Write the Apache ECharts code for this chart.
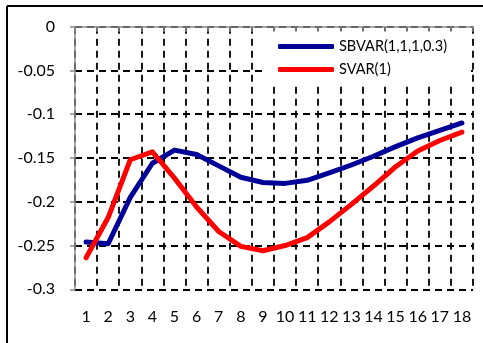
<!DOCTYPE html>
<html>
<head>
<meta charset="utf-8">
<script src="https://cdn.jsdelivr.net/npm/echarts@6/dist/echarts.min.js"></script>
<style>
html,body{margin:0;padding:0;background:#fff;}
#c{width:483px;height:343px;}
</style>
</head>
<body>
<div id="c"></div>
<script>
var categories = ['1','2','3','4','5','6','7','8','9','10','11','12','13','14','15','16','17','18'];
var sbvarName = 'SBVAR(1,1,1,0.3)';
var svarName = 'SVAR(1)';
var sbvarValues = [-0.246, -0.248, -0.195, -0.156, -0.141, -0.146, -0.159, -0.172, -0.178, -0.179, -0.1755, -0.167, -0.158, -0.148, -0.137, -0.127, -0.1185, -0.110];
var svarValues = [-0.264, -0.218, -0.152, -0.143, -0.173, -0.206, -0.234, -0.251, -0.256, -0.250, -0.241, -0.223, -0.203, -0.182, -0.160, -0.142, -0.130, -0.1205];
var yTicks = {min: -0.3, max: 0, interval: 0.05};

var FONT = 'Lato';
var chart = echarts.init(document.getElementById('c'), null, {renderer: 'canvas'});
var dash = {color: '#000', width: 1.8, type: [7, 5]};
chart.setOption({
  animation: false,
  backgroundColor: '#fff',
  grid: {left: 75, right: 10, top: 26.7, bottom: 53.7},
  graphic: [
    {type: 'line', shape: {x1: 7, y1: 6, x2: 7, y2: 343}, style: {stroke: '#000', lineWidth: 2}, z: 100},
    {type: 'line', shape: {x1: 7, y1: 6, x2: 483, y2: 6}, style: {stroke: '#000', lineWidth: 2}, z: 100}
  ],
  legend: {
    orient: 'vertical',
    left: 266, top: 31,
    padding: [8, 22, 8, 12],
    backgroundColor: '#fff',
    itemWidth: 56, itemHeight: 5, itemGap: 8,
    icon: 'roundRect',
    textStyle: {fontFamily: FONT, fontSize: 14.5, color: '#000'},
    data: [sbvarName, svarName]
  },
  xAxis: [
    {
      type: 'category', data: categories, position: 'bottom', boundaryGap: true,
      axisLine: {show: false}, axisTick: {show: false},
      axisLabel: {interval: 0, margin: 20, fontFamily: FONT, fontSize: 16, color: '#000'},
      splitLine: {show: true, interval: 0, lineStyle: dash}
    },
    {
      type: 'category', data: categories, position: 'top', boundaryGap: true, z: 5,
      axisLine: {show: true, lineStyle: {color: '#888', width: 1.5}},
      axisTick: {show: true, inside: true, length: 5, interval: 0, lineStyle: {color: '#888', width: 1.5}},
      axisLabel: {show: false}, splitLine: {show: false}
    }
  ],
  yAxis: {
    type: 'value', min: yTicks.min, max: yTicks.max, interval: yTicks.interval,
    axisLine: {show: true, lineStyle: {color: '#888', width: 1.5}},
    axisTick: {show: true, length: 5, lineStyle: {color: '#888', width: 1.5}},
    axisLabel: {margin: 20, fontFamily: FONT, fontSize: 16, color: '#000'},
    splitLine: {show: true, lineStyle: dash}
  },
  series: [
    {
      name: sbvarName, type: 'line', data: sbvarValues, xAxisIndex: 0,
      symbol: 'none', smooth: false, color: '#000099',
      lineStyle: {width: 5, color: '#000099', cap: 'round', join: 'round'}, z: 3
    },
    {
      name: svarName, type: 'line', data: svarValues, xAxisIndex: 0,
      symbol: 'none', smooth: false, color: '#ff0000',
      lineStyle: {width: 5, color: '#ff0000', cap: 'round', join: 'round'}, z: 4
    }
  ]
});
</script>
</body>
</html>
